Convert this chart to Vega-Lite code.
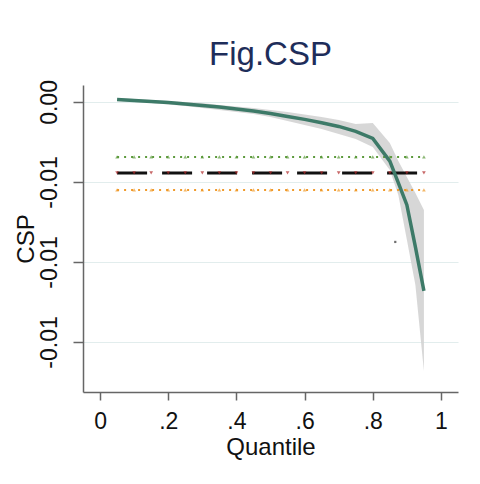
{
  "$schema": "https://vega.github.io/schema/vega-lite/v6.json",
  "width": 375,
  "height": 307,
  "autosize": {"type": "none"},
  "padding": {"left": 83, "top": 85, "right": 22, "bottom": 92},
  "background": "white",
  "config": {
    "view": {"stroke": null},
    "font": "Liberation Sans",
    "axis": {"titleFontWeight": "normal", "labelFont": "Liberation Sans", "titleFont": "Liberation Sans"}
  },
  "title": {
    "text": "Fig.CSP",
    "fontSize": 33,
    "fontWeight": "normal",
    "color": "#1e2d5a",
    "font": "Liberation Sans",
    "anchor": "middle",
    "offset": 8
  },
  "datasets": {
    "qr": [
      {"q": 0.05, "est": 0.00016, "lo": 0.00006, "hi": 0.00025},
      {"q": 0.10, "est": 0.00009, "lo": 0.0, "hi": 0.00019},
      {"q": 0.15, "est": 0.00003, "lo": -0.00006, "hi": 0.00013},
      {"q": 0.20, "est": -0.00004, "lo": -0.00016, "hi": 0.00006},
      {"q": 0.25, "est": -0.00013, "lo": -0.00025, "hi": 0.0},
      {"q": 0.30, "est": -0.00022, "lo": -0.00038, "hi": -0.00006},
      {"q": 0.35, "est": -0.00031, "lo": -0.0005, "hi": -0.00019},
      {"q": 0.40, "est": -0.00044, "lo": -0.00063, "hi": -0.00028},
      {"q": 0.45, "est": -0.00056, "lo": -0.00075, "hi": -0.00038},
      {"q": 0.50, "est": -0.00072, "lo": -0.00094, "hi": -0.0005},
      {"q": 0.55, "est": -0.00091, "lo": -0.00119, "hi": -0.00063},
      {"q": 0.60, "est": -0.00109, "lo": -0.00144, "hi": -0.00078},
      {"q": 0.65, "est": -0.0013, "lo": -0.00169, "hi": -0.00094},
      {"q": 0.70, "est": -0.00153, "lo": -0.002, "hi": -0.00113},
      {"q": 0.75, "est": -0.00184, "lo": -0.00231, "hi": -0.00138},
      {"q": 0.80, "est": -0.00228, "lo": -0.00281, "hi": -0.00131},
      {"q": 0.85, "est": -0.0037, "lo": -0.00425, "hi": -0.00256},
      {"q": 0.875, "est": -0.00506, "lo": -0.00581, "hi": -0.00369},
      {"q": 0.90, "est": -0.00644, "lo": -0.00862, "hi": -0.00469},
      {"q": 0.925, "est": -0.00906, "lo": -0.01144, "hi": -0.00569},
      {"q": 0.95, "est": -0.01181, "lo": -0.01681, "hi": -0.00675}
    ],
    "ols": [
      {"q": 0.05, "ols": -0.00444, "lo": -0.0055, "hi": -0.00344},
      {"q": 0.10, "ols": -0.00444, "lo": -0.0055, "hi": -0.00344},
      {"q": 0.15, "ols": -0.00444, "lo": -0.0055, "hi": -0.00344},
      {"q": 0.20, "ols": -0.00444, "lo": -0.0055, "hi": -0.00344},
      {"q": 0.25, "ols": -0.00444, "lo": -0.0055, "hi": -0.00344},
      {"q": 0.30, "ols": -0.00444, "lo": -0.0055, "hi": -0.00344},
      {"q": 0.35, "ols": -0.00444, "lo": -0.0055, "hi": -0.00344},
      {"q": 0.40, "ols": -0.00444, "lo": -0.0055, "hi": -0.00344},
      {"q": 0.45, "ols": -0.00444, "lo": -0.0055, "hi": -0.00344},
      {"q": 0.50, "ols": -0.00444, "lo": -0.0055, "hi": -0.00344},
      {"q": 0.55, "ols": -0.00444, "lo": -0.0055, "hi": -0.00344},
      {"q": 0.60, "ols": -0.00444, "lo": -0.0055, "hi": -0.00344},
      {"q": 0.65, "ols": -0.00444, "lo": -0.0055, "hi": -0.00344},
      {"q": 0.70, "ols": -0.00444, "lo": -0.0055, "hi": -0.00344},
      {"q": 0.75, "ols": -0.00444, "lo": -0.0055, "hi": -0.00344},
      {"q": 0.80, "ols": -0.00444, "lo": -0.0055, "hi": -0.00344},
      {"q": 0.85, "ols": -0.00444, "lo": -0.0055, "hi": -0.00344},
      {"q": 0.90, "ols": -0.00444, "lo": -0.0055, "hi": -0.00344},
      {"q": 0.95, "ols": -0.00444, "lo": -0.0055, "hi": -0.00344}
    ],
    "stray": [
      {"q": 0.866, "v": -0.00875}
    ]
  },
  "encoding": {
    "x": {
      "field": "q",
      "type": "quantitative",
      "scale": {"domain": [-0.05, 1.05], "nice": false, "zero": false},
      "axis": {
        "values": [0, 0.2, 0.4, 0.6, 0.8, 1],
        "labelExpr": "datum.value == 0 ? '0' : datum.value == 1 ? '1' : replace(format(datum.value, '.1f'), '0.', '.')",
        "title": "Quantile",
        "grid": false,
        "domainColor": "#666666",
        "domainWidth": 1.5,
        "tickColor": "#666666",
        "tickWidth": 1.5,
        "tickSize": 8,
        "labelFontSize": 23,
        "labelColor": "#111111",
        "labelPadding": 10,
        "titleFontSize": 24,
        "titleColor": "#111111",
        "titlePadding": 2
      }
    }
  },
  "layer": [
    {
      "data": {"name": "qr"},
      "mark": {"type": "area", "color": "#d3d3d3", "opacity": 0.9},
      "encoding": {
        "y": {
          "field": "lo",
          "type": "quantitative",
          "scale": {"domain": [-0.01813, 0.00106], "nice": false, "zero": false},
          "axis": {
            "values": [0, -0.005, -0.01, -0.015],
            "labelExpr": "replace(format(datum.value, '.2f'), '\u2212', '-')",
            "title": "CSP",
            "grid": true,
            "gridColor": "#e2eded",
            "gridWidth": 1.2,
            "domainColor": "#666666",
            "domainWidth": 1.5,
            "tickColor": "#666666",
            "tickWidth": 1.5,
            "tickSize": 10,
            "labelAngle": -90,
            "labelAlign": "center",
            "labelBaseline": "bottom",
            "labelFontSize": 23,
            "labelColor": "#111111",
            "labelPadding": 12,
            "titleFontSize": 24,
            "titleColor": "#111111",
            "titlePadding": 0
          }
        },
        "y2": {"field": "hi"}
      }
    },
    {
      "data": {"name": "ols"},
      "mark": {"type": "line", "color": "#5c9a3c", "strokeWidth": 2, "strokeDash": [2, 5]},
      "encoding": {"y": {"field": "hi", "type": "quantitative"}}
    },
    {
      "data": {"name": "ols"},
      "mark": {"type": "point", "shape": "triangle-up", "filled": true, "color": "#5c9a3c", "size": 14},
      "encoding": {"y": {"field": "hi", "type": "quantitative"}}
    },
    {
      "data": {"name": "ols"},
      "mark": {"type": "line", "color": "#f09a2a", "strokeWidth": 2, "strokeDash": [2, 5]},
      "encoding": {"y": {"field": "lo", "type": "quantitative"}}
    },
    {
      "data": {"name": "ols"},
      "mark": {"type": "point", "shape": "triangle-up", "filled": true, "color": "#f09a2a", "size": 14},
      "encoding": {"y": {"field": "lo", "type": "quantitative"}}
    },
    {
      "data": {"name": "ols"},
      "mark": {"type": "line", "color": "#111111", "strokeWidth": 3, "strokeDash": [30, 15]},
      "encoding": {"y": {"field": "ols", "type": "quantitative"}}
    },
    {
      "data": {"name": "ols"},
      "mark": {"type": "point", "shape": "triangle-down", "filled": true, "color": "#b02a2a", "size": 14},
      "encoding": {"y": {"field": "ols", "type": "quantitative"}}
    },
    {
      "data": {"name": "stray"},
      "mark": {"type": "point", "shape": "square", "filled": true, "color": "#333333", "size": 5},
      "encoding": {"y": {"field": "v", "type": "quantitative"}}
    },
    {
      "data": {"name": "qr"},
      "mark": {"type": "line", "color": "#3d7a68", "strokeWidth": 3.5},
      "encoding": {"y": {"field": "est", "type": "quantitative"}}
    }
  ]
}
